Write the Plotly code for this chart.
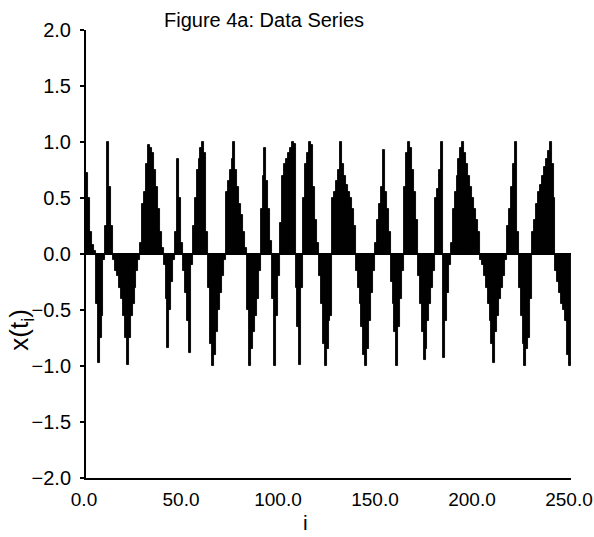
import plotly.graph_objects as go

# Sample index i and the series x(t_i), read lobe by lobe from the figure
lobe_values = [
    [0.72, 0.5, 0.2, 0.08, 0.03],
    [-0.45, -0.97, -0.75, -0.55, -0.05],
    [0.25, 1.0, 0.6, 0.25],
    [-0.05, -0.15, -0.2, -0.3, -0.4, -0.55, -0.75, -0.99, -0.75, -0.55, -0.45, -0.3, -0.15, -0.05],
    [0.1, 0.45, 0.55, 0.8, 0.97, 0.95, 0.9, 0.75, 0.6, 0.4, 0.2, 0.05],
    [-0.1, -0.4, -0.84, -0.5, -0.25, -0.05],
    [0.2, 0.85, 0.5, 0.1],
    [-0.15, -0.35, -0.6, -0.88, -0.1],
    [0.25, 0.5, 0.75, 0.85, 0.95, 1.0, 0.9, 0.2],
    [-0.3, -0.8, -1.0, -0.9, -0.7, -0.5, -0.35, -0.2, -0.05],
    [0.55, 0.65, 0.75, 0.85, 1.0, 0.75, 0.6, 0.45, 0.35, 0.2, 0.05],
    [-0.5, -1.0, -0.85, -0.7, -0.55, -0.4, -0.15],
    [0.4, 0.7, 0.95, 0.65, 0.4, 0.12],
    [-0.4, -1.0, -0.55, -0.2],
    [0.28, 0.7, 0.8, 0.85, 0.9, 0.95, 1.0, 0.98],
    [-0.3, -0.65, -0.99, -0.3],
    [0.5, 0.8, 0.9, 1.0, 0.97, 0.6, 0.3, 0.1],
    [-0.2, -0.45, -0.8, -1.0, -0.85, -0.6, -0.55],
    [0.5, 0.55, 0.65, 0.75, 1.0, 0.8, 0.7, 0.62, 0.55, 0.5, 0.4, 0.25],
    [-0.15, -0.3, -0.45, -0.65, -0.9, -1.0, -0.85, -0.6, -0.35, -0.15],
    [0.1, 0.3, 0.45, 0.6, 0.93, 0.55, 0.4, 0.2],
    [-0.25, -0.45, -0.7, -1.0, -0.65, -0.4, -0.15],
    [0.6, 0.9, 1.0, 0.95, 0.75, 0.55, 0.3],
    [-0.2, -0.45, -0.7, -0.95, -0.85, -0.6, -0.45, -0.3, -0.15],
    [0.5, 0.58, 0.75, 1.0],
    [-0.93, -0.6, -0.35, -0.1],
    [0.1, 0.4, 0.55, 0.7, 0.85, 0.95, 1.0, 0.9, 0.8, 0.7, 0.6, 0.5, 0.4, 0.3, 0.2],
    [-0.05, -0.1, -0.2, -0.3, -0.45, -0.6, -0.8, -0.97, -0.7, -0.55, -0.4, -0.3, -0.2, -0.05],
    [0.25, 0.4, 0.6, 0.8, 1.0, 0.2],
    [-0.3, -0.55, -0.8, -1.0, -0.85, -0.75, -0.4],
    [0.2, 0.3, 0.45, 0.55, 0.62, 0.7, 0.78, 0.85, 0.92, 1.0, 0.8, 0.5],
    [-0.15, -0.25, -0.35, -0.45, -0.5, -0.6, -0.9, -1.0],
]
x_values = [v for lobe in lobe_values for v in lobe]
i_values = list(range(len(x_values)))

x_ticks = [0, 50, 100, 150, 200, 250]
y_ticks = [-2.0, -1.5, -1.0, -0.5, 0.0, 0.5, 1.0, 1.5, 2.0]

FONT = "Liberation Sans, Arial, sans-serif"

fig = go.Figure()
fig.add_trace(go.Bar(
    x=i_values, y=x_values, width=1, offset=0,
    marker=dict(color="black", line=dict(color="black", width=0.9)),
    showlegend=False,
))

fig.update_layout(
    width=594, height=537,
    margin=dict(l=86, r=23, t=30, b=59),
    paper_bgcolor="white", plot_bgcolor="white",
    bargap=0,
    font=dict(family=FONT, size=19, color="black"),
    xaxis=dict(
        range=[0, 250], tickvals=x_ticks, tickformat=".1f",
        showline=True, linecolor="black", linewidth=2,
        showgrid=False, zeroline=False, ticks="", ticklabelstandoff=3,
        ticklabelshift=-2,
        automargin=False, ticklabeloverflow="allow",
        tickfont=dict(family=FONT, size=19),
    ),
    yaxis=dict(
        range=[-2, 2], tickvals=y_ticks, tickformat=".1f",
        showline=True, linecolor="black", linewidth=2,
        showgrid=False, zeroline=True, zerolinecolor="black", zerolinewidth=2,
        ticks="outside", ticklen=4, tickwidth=1.5, tickcolor="black",
        ticklabelstandoff=5, automargin=False, ticklabeloverflow="allow",
        tickfont=dict(family=FONT, size=20),
    ),
    annotations=[
        dict(text="Figure 4a: Data Series", xref="paper", yref="paper",
             x=0.366, y=1.022, xanchor="center", yanchor="middle",
             showarrow=False, font=dict(family=FONT, size=20)),
        dict(text="x(t<sub>i</sub>)", xref="paper", yref="paper",
             x=-0.135, y=0.33, xanchor="center", yanchor="middle",
             textangle=-90, showarrow=False, font=dict(family=FONT, size=26)),
        dict(text="i", xref="paper", yref="paper",
             x=0.452, y=-0.1, xanchor="center", yanchor="middle",
             showarrow=False, font=dict(family=FONT, size=21)),
    ],
)

# remove the page's default 8px body margin so the 594x537 figure fills the window
fig.write_html("out.html", config={"displayModeBar": False},
               post_script="document.body.style.margin='0px';")
